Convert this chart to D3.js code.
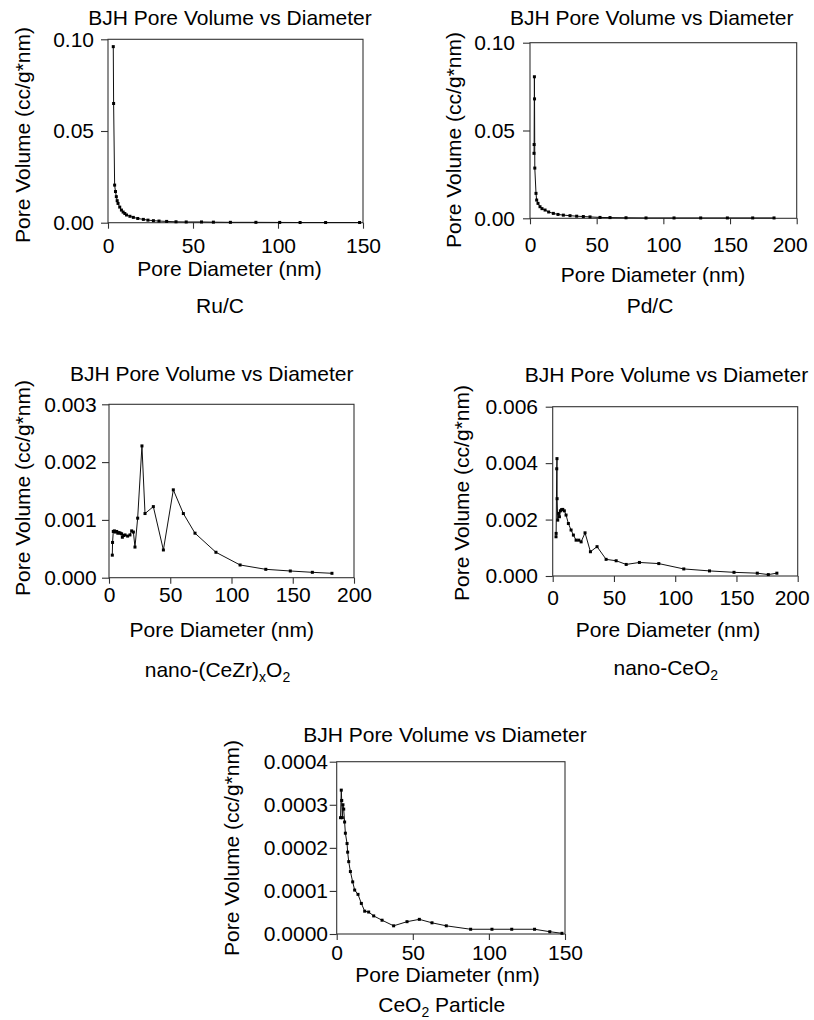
<!DOCTYPE html>
<html><head><meta charset="utf-8">
<script src="https://cdn.jsdelivr.net/npm/d3@7"></script>
<style>html,body{margin:0;padding:0;background:#fff;}svg{display:block;}</style>
</head><body>
<svg id="c" width="814" height="1020"></svg>
<script>
// ---------- DATA ----------
const ruX = [3.1, 3.3, 3.9, 4.4, 4.9, 5.4, 5.9, 6.9, 7.9, 8.9, 9.9, 10.9, 12.9, 14.9, 17.5, 20.8, 23.5, 26.7, 30, 34.5, 40, 46, 55, 62, 72, 87, 101, 113, 128, 148];
const ruY = [0.096, 0.065, 0.0205, 0.017, 0.0142, 0.012, 0.0105, 0.0085, 0.0069, 0.0058, 0.005, 0.0042, 0.0035, 0.0029, 0.0023, 0.0018, 0.0014, 0.0011, 0.0009, 0.0007, 0.0005, 0.0004, 0.0004, 0.0003, 0.0002, 0.0002, 0.00015, 0.0001, 0.0001, 0.0001];

const pdX = [3.0, 3.1, 3.3, 3.4, 3.6, 4.5, 5.0, 6.0, 7.5, 9.0, 11.3, 14, 17.5, 21, 25, 30, 35, 40, 45, 52.5, 60, 72, 87, 108, 128, 148, 167, 183];
const pdY = [0.037, 0.042, 0.0806, 0.068, 0.0286, 0.0142, 0.0104, 0.0085, 0.0066, 0.0055, 0.0047, 0.0036, 0.0028, 0.0022, 0.0018, 0.0015, 0.0012, 0.001, 0.0008, 0.0005, 0.0004, 0.0003, 0.0002, 0.0002, 0.0002, 0.0002, 0.0002, 0.0002];

const czX = [2.7, 2.9, 3.5, 4.4, 5.2, 6.3, 7.2, 8.2, 9.2, 10.3, 10.9, 12, 13.1, 15.2, 17.1, 18.5, 19.9, 21.2, 23.4, 26.9, 29.4, 36.2, 44.4, 52.5, 60.7, 70.2, 87.3, 107, 128, 148, 166, 182];
const czY = [0.00039, 0.00061, 0.0008, 0.00081, 0.00079, 0.0008, 0.00077, 0.00078, 0.00077, 0.00076, 0.0007, 0.00073, 0.00074, 0.00072, 0.00074, 0.00081, 0.00079, 0.00053, 0.00103, 0.00228, 0.00111, 0.00123, 0.00048, 0.00152, 0.00111, 0.00077, 0.00044, 0.00022, 0.000145, 0.000116, 0.000093, 0.000076];

const ncX = [2.7, 2.8, 3.3, 3.5, 3.6, 4.1, 4.9, 5.5, 6.3, 7.2, 8.2, 9.5, 10.9, 12.8, 15.0, 16.9, 19.1, 21.3, 23.2, 26.4, 30.8, 36.2, 43.6, 51.8, 60, 70.8, 86.6, 107, 128, 148, 167, 176, 183];
const ncY = [0.00139, 0.00151, 0.0038, 0.00416, 0.00274, 0.00198, 0.00222, 0.0021, 0.00231, 0.00235, 0.00236, 0.00231, 0.00216, 0.00186, 0.00163, 0.00145, 0.00127, 0.00127, 0.00121, 0.00153, 0.00086, 0.00104, 0.00059, 0.00054, 0.00041, 0.00048, 0.00044, 0.00025, 0.00018, 0.00013, 0.0001, 0.00005, 0.0001];

const cpX = [2.5, 3.0, 3.3, 3.7, 4.1, 4.6, 5.2, 5.7, 6.8, 7.2, 7.9, 9.0, 10.5, 11.8, 14.0, 16.2, 18.4, 21, 24.3, 29.8, 37.4, 46.2, 54.3, 62.6, 72, 88, 102, 115, 130, 140, 148];
const cpY = [0.00027, 0.000334, 0.00031, 0.00027, 0.0003, 0.00029, 0.00026, 0.000234, 0.00021, 0.00019, 0.000168, 0.000145, 0.000121, 0.000102, 0.000092, 0.000071, 0.000053, 0.000051, 0.000042, 0.000032, 0.000019, 0.0000286, 0.000034, 0.000026, 0.000019, 0.000011, 0.000011, 0.000011, 0.000011, 0.0000053, 0.0000016];

const xTicks150 = [0, 50, 100, 150];
const xTicks200 = [0, 50, 100, 150, 200];
const yTicksRu = [0, 0.05, 0.10];
const yTicksPd = [0, 0.05, 0.10];
const yTicksCz = [0, 0.001, 0.002, 0.003];
const yTicksNc = [0, 0.002, 0.004, 0.006];
const yTicksCp = [0, 0.0001, 0.0002, 0.0003, 0.0004];
const yDigitsRu = 2, yDigitsPd = 2, yDigitsCz = 3, yDigitsNc = 3, yDigitsCp = 4;

const chartTitle = "BJH Pore Volume vs Diameter";
const yAxisTitle = "Pore Volume (cc/g*nm)";
const xAxisTitle = "Pore Diameter (nm)";
// subtitle pieces: [text, isSubscript]
const subRu = [["Ru/C", false]];
const subPd = [["Pd/C", false]];
const subCz = [["nano-(CeZr)", false], ["x", true], ["O", false], ["2", true]];
const subNc = [["nano-CeO", false], ["2", true]];
const subCp = [["CeO", false], ["2", true], [" Particle", false]];

// ---------- LAYOUT ----------
const FONT = '"Liberation Sans", Arial, Helvetica, sans-serif';
const FS = 21;
const SUBFS = 14;
const panels = [
  {xs: ruX, ys: ruY, xMax: 150, yMax: 0.10, xt: xTicks150, yt: yTicksRu, yd: yDigitsRu, sub: subRu,
   box: [108, 363, 39.3, 222.7], titleY: 24.5, titleX: 230, xtBase: 253.3, xlX: 229.5, xlY: 276, subX: 220, subY: 313, ylX: 22.5, ylY: 135, ytEnd: 94},
  {xs: pdX, ys: pdY, xMax: 200, yMax: 0.10, xt: xTicks200, yt: yTicksPd, yd: yDigitsPd, sub: subPd,
   box: [530, 796.7, 42.7, 218.3], titleY: 25, titleX: 651.7, xtBase: 252, xlX: 653, xlY: 282, subX: 650, subY: 313, ylX: 453, ylY: 140, ytEnd: 515, lastShift: -7},
  {xs: czX, ys: czY, xMax: 200, yMax: 0.003, xt: xTicks200, yt: yTicksCz, yd: yDigitsCz, sub: subCz,
   box: [109, 354, 404.3, 577.7], titleY: 380.7, titleX: 211.7, xtBase: 602.3, xlX: 221.7, xlY: 636.7, subX: 217.5, subY: 676.7, ylX: 22.5, ylY: 488, ytEnd: 96.7},
  {xs: ncX, ys: ncY, xMax: 200, yMax: 0.006, xt: xTicks200, yt: yTicksNc, yd: yDigitsNc, sub: subNc,
   box: [552.7, 797.7, 406.7, 576], titleY: 382, titleX: 666.5, xtBase: 605, xlX: 668, xlY: 637, subX: 665.8, subY: 675, ylX: 461, ylY: 493, ytEnd: 538, lastShift: -6},
  {xs: cpX, ys: cpY, xMax: 150, yMax: 0.0004, xt: xTicks150, yt: yTicksCp, yd: yDigitsCp, sub: subCp,
   box: [336.7, 565, 761.7, 934], titleY: 741.7, titleX: 445, xtBase: 960, xlX: 447.5, xlY: 981.7, subX: 441.7, subY: 1011.7, ylX: 231, ylY: 848, ytEnd: 328}
];

const svg = d3.select("#c");
const AX = "#333";

panels.forEach(p => {
  const [L, R, T, B] = p.box;
  const x = d3.scaleLinear().domain([0, p.xMax]).range([L, R]);
  const y = d3.scaleLinear().domain([0, p.yMax]).range([B, T]);
  const g = svg.append("g").attr("font-family", FONT).attr("font-size", FS).attr("fill", "#000");

  // frame
  g.append("rect").attr("x", L).attr("y", T).attr("width", R - L).attr("height", B - T)
    .attr("fill", "none").attr("stroke", AX).attr("stroke-width", 1.1);

  // y axis
  const ya = g.append("g").attr("transform", `translate(${L},0)`)
    .call(d3.axisLeft(y).tickValues(p.yt).tickSize(7).tickPadding(L - 7 - p.ytEnd).tickFormat(d => d.toFixed(p.yd)));
  ya.select(".domain").remove();
  ya.selectAll("line").attr("stroke", AX).attr("stroke-width", 1.1);
  ya.selectAll("text").attr("font-family", FONT).attr("font-size", FS).attr("fill", "#000");

  // x axis
  const xa = g.append("g").attr("transform", `translate(0,${B})`)
    .call(d3.axisBottom(x).tickValues(p.xt).tickSize(6).tickFormat(d3.format("d")));
  xa.select(".domain").remove();
  xa.selectAll("line").attr("stroke", AX).attr("stroke-width", 1.1);
  xa.selectAll("text").attr("font-family", FONT).attr("font-size", FS).attr("fill", "#000")
    .attr("dy", null).attr("y", p.xtBase - B)
    .attr("dx", (d, i, n) => (p.lastShift && i === n.length - 1) ? p.lastShift : 0);

  // data
  const pts = p.xs.map((v, i) => [v, p.ys[i]]);
  const line = d3.line().x(d => x(d[0])).y(d => y(d[1]));
  g.append("path").datum(pts).attr("d", line).attr("fill", "none").attr("stroke", "#111").attr("stroke-width", 1);
  g.selectAll("rect.m").data(pts).enter().append("rect").attr("class", "m")
    .attr("x", d => x(d[0]) - 1.5).attr("y", d => y(d[1]) - 1.5).attr("width", 3).attr("height", 3).attr("fill", "#000");

  // titles
  g.append("text").attr("x", p.titleX).attr("y", p.titleY).attr("text-anchor", "middle").text(chartTitle);
  g.append("text").attr("x", p.xlX).attr("y", p.xlY).attr("text-anchor", "middle").text(xAxisTitle);
  g.append("text").attr("transform", `translate(${p.ylX},${p.ylY}) rotate(-90)`)
    .attr("text-anchor", "middle").attr("dominant-baseline", "central").text(yAxisTitle);

  const st = g.append("text").attr("x", p.subX).attr("y", p.subY).attr("text-anchor", "middle");
  let down = false;
  p.sub.forEach(([txt, isSub]) => {
    const ts = st.append("tspan").text(txt);
    if (isSub && !down) { ts.attr("font-size", SUBFS).attr("dy", 5); down = true; }
    else if (!isSub && down) { ts.attr("dy", -5); down = false; }
    else if (isSub) { ts.attr("font-size", SUBFS); }
  });
});
</script>
</body></html>
